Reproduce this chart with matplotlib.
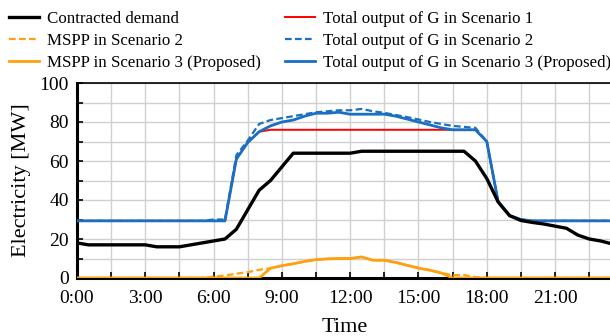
import matplotlib
matplotlib.use("Agg")
import matplotlib.pyplot as plt
import numpy as np

plt.rcParams['font.family'] = ['Liberation Serif', 'DejaVu Serif']

# Half-hourly time (hours)
hours = np.arange(0, 24, 0.5)

contracted = [18, 17, 17, 17, 17, 17, 17, 16, 16, 16, 17, 18, 19, 20,
              25, 35, 45, 50, 57, 64, 64, 64, 64, 64, 64, 65, 65, 65,
              65, 65, 65, 65, 65, 65, 65, 60, 51, 39, 32, 29.5, 28.5, 27.7,
              26.6, 25.5, 22, 20, 19, 17.5]

g_s3 = [29.3] * 14 + [61, 69.5, 75, 78, 80, 81, 83, 84.5, 84.5, 85, 84, 84,
                      84, 84, 83, 81.5, 80, 78.5, 77, 76, 76, 76, 70, 39, 32, 30] + [29.3] * 8

g_s1 = [29.3] * 14 + [61, 69.5, 75, 76, 76, 76, 76, 76, 76, 76, 76, 76,
                      76, 76, 76, 76, 76, 76, 76, 76, 76, 76, 70, 39, 32, 30] + [29.3] * 8

g_s2 = [29.3] * 12 + [30, 30, 63, 70.5, 79, 81, 82, 83, 84, 85, 85.5, 86, 86, 86.7,
                      85.5, 84.7, 83.6, 82.5, 81.3, 80, 79, 78, 77.5, 77, 70, 39, 32, 30] + [29.3] * 8

mspp_s3 = [0] * 17 + [5, 6.3, 7.3, 8.5, 9.4, 9.8, 10, 10, 10.8, 9.1, 9.1, 8, 6.5,
                      5.1, 4, 2.6, 0] + [0] * 14

mspp_s2 = [0] * 12 + [0.7, 1.3, 2.2, 3, 4.2, 5, 6.3, 7.3, 8.5, 9.4, 9.8, 10, 10, 10.8,
                      9.1, 9.1, 8, 6.5, 5.1, 4, 2.6, 1.5, 1.5, 0.5] + [0] * 12

xtick_pos = np.arange(0, 24, 1.5)
xtick_labels = [f"{int(h)}:00" if h % 3 == 0 else "" for h in xtick_pos]

BLUE = '#1a6fc2'
ORANGE = '#ffa010'
RED = '#ff0000'

fig = plt.figure(figsize=(6.10, 3.36), dpi=100)
ax = fig.add_axes([77 / 610, 1 - 278 / 336, 535 / 610, 195 / 336])

ax.plot(hours, contracted, color='black', lw=2.4, label='Contracted demand', zorder=5)
ax.plot(hours, mspp_s2, color=ORANGE, lw=1.6, ls=(0, (3, 1.5)), label='MSPP in Scenario 2', zorder=4)
ax.plot(hours, mspp_s3, color=ORANGE, lw=2.0, label='MSPP in Scenario 3 (Proposed)', zorder=4)
ax.plot(hours, g_s1, color=RED, lw=1.4, label='Total output of G in Scenario 1', zorder=3)
ax.plot(hours, g_s2, color=BLUE, lw=1.6, ls=(0, (3, 1.5)), label='Total output of G in Scenario 2', zorder=4)
ax.plot(hours, g_s3, color=BLUE, lw=2.0, label='Total output of G in Scenario 3 (Proposed)', zorder=4)

ax.set_xlim(0, 23.5)
ax.set_ylim(0, 100)
ax.set_xticks(xtick_pos)
ax.set_xticklabels(xtick_labels)
ax.set_yticks(np.arange(0, 101, 20))
ax.set_yticks(np.arange(0, 101, 10), minor=True)
ax.tick_params(axis='both', which='both', direction='in', length=4, width=1.2, labelsize=14, colors='black')
ax.tick_params(axis='x', pad=8.5)
ax.tick_params(axis='y', pad=6)
ax.grid(True, which='both', color='#d0d0d0', lw=1.0, zorder=0)
ax.set_axisbelow(True)

for side in ['left', 'bottom']:
    ax.spines[side].set_linewidth(2.2)
ax.spines['top'].set_linewidth(1.2)
ax.spines['right'].set_visible(False)

ax.set_ylabel('Electricity [MW]', fontsize=16, labelpad=6)
ax.set_xlabel('Time', fontsize=16, labelpad=8)

handles, labels = ax.get_legend_handles_labels()
fig.legend(handles, labels, loc='upper left', bbox_to_anchor=(0.006, 1 - 5.5 / 336), ncol=2,
           frameon=False, fontsize=12.2, handlelength=1.8, handletextpad=0.46,
           columnspacing=1.4, labelspacing=0.36, borderaxespad=0.0, borderpad=0.3)

fig.savefig('out.png', dpi=100)
